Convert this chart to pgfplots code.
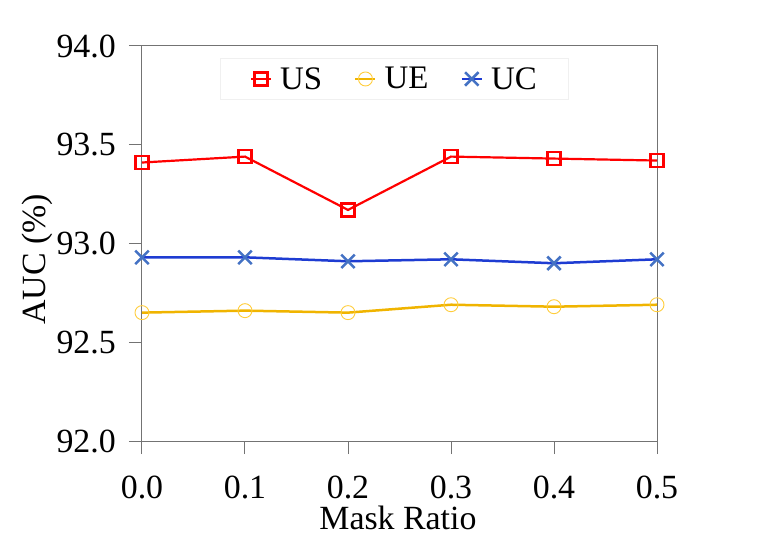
\documentclass[border=0pt]{standalone}
\usepackage{pgfplots}
\pgfplotsset{compat=1.18}
\usepackage{fontspec}
\setmainfont{Liberation Serif}
\definecolor{usred}{RGB}{255,0,0}
\definecolor{ueline}{RGB}{240,180,0}
\definecolor{uemark}{RGB}{255,205,60}
\definecolor{ucline}{RGB}{30,60,210}
\definecolor{ucmark}{RGB}{68,114,196}
\begin{document}
\begin{tikzpicture}
\begin{axis}[
  scale only axis,
  width=515bp, height=395bp,
  xmin=0, xmax=0.5, ymin=92, ymax=94,
  xtick={0,0.1,0.2,0.3,0.4,0.5},
  ytick={92,92.5,93,93.5,94},
  /pgf/number format/assume math mode=true,
  xticklabel style={/pgf/number format/.cd,fixed,fixed zerofill,precision=1,/tikz/.cd,inner sep=1bp,yshift=-21bp},
  yticklabel style={/pgf/number format/.cd,fixed,fixed zerofill,precision=1,/tikz/.cd,inner sep=1bp,xshift=-12bp},
  font=\fontsize{34}{40}\selectfont,
  tick label style={font=\fontsize{34}{40}\selectfont},
  axis line style={draw=gray!90!black, line width=1bp},
  tick style={draw=gray!90!black, line width=1bp},
  tick align=outside,
  major tick length=13bp,
  xtick pos=bottom, ytick pos=left,
  xlabel={Mask Ratio}, ylabel={AUC (\%)},
  xlabel style={at={(axis description cs:0.497,-0.194)}, anchor=center, inner sep=1bp},
  ylabel style={at={(axis description cs:-0.204,0.46)}, anchor=center, inner sep=1bp},
  legend columns=3,
  legend style={at={(0.49,0.97)}, anchor=north, draw=gray!12, line width=1bp,
    font=\fontsize{33}{38}\selectfont, inner xsep=30bp, inner ysep=7bp,
    /tikz/every odd column/.append style={column sep=6bp},
    /tikz/every even column/.append style={column sep=30bp}},
  legend cell align=left,
  legend image code/.code={\draw[mark repeat=2,mark phase=2] plot coordinates {(0bp,0bp) (10bp,0bp) (20bp,0bp)};},
]
\addplot[usred, line width=2.2bp, mark=square, mark size=6.5bp, mark options={line width=2.5bp, fill=none}]
  coordinates {(0,93.41) (0.1,93.44) (0.2,93.17) (0.3,93.44) (0.4,93.43) (0.5,93.42)};
\addlegendentry{US}
\addplot[ueline, line width=2.5bp, mark=o, mark size=7bp, mark options={draw=uemark, line width=0.9bp}]
  coordinates {(0,92.65) (0.1,92.66) (0.2,92.65) (0.3,92.69) (0.4,92.68) (0.5,92.69)};
\addlegendentry{UE}
\addplot[ucline, line width=2.5bp, mark=x, mark size=9.5bp, mark options={draw=ucmark, line width=2.5bp}]
  coordinates {(0,92.93) (0.1,92.93) (0.2,92.91) (0.3,92.92) (0.4,92.90) (0.5,92.92)};
\addlegendentry{UC}
\end{axis}
\pgfresetboundingbox
\path (current axis.south west) ++(-142bp,-97bp) rectangle ++(761bp,538bp);
\end{tikzpicture}
\end{document}
